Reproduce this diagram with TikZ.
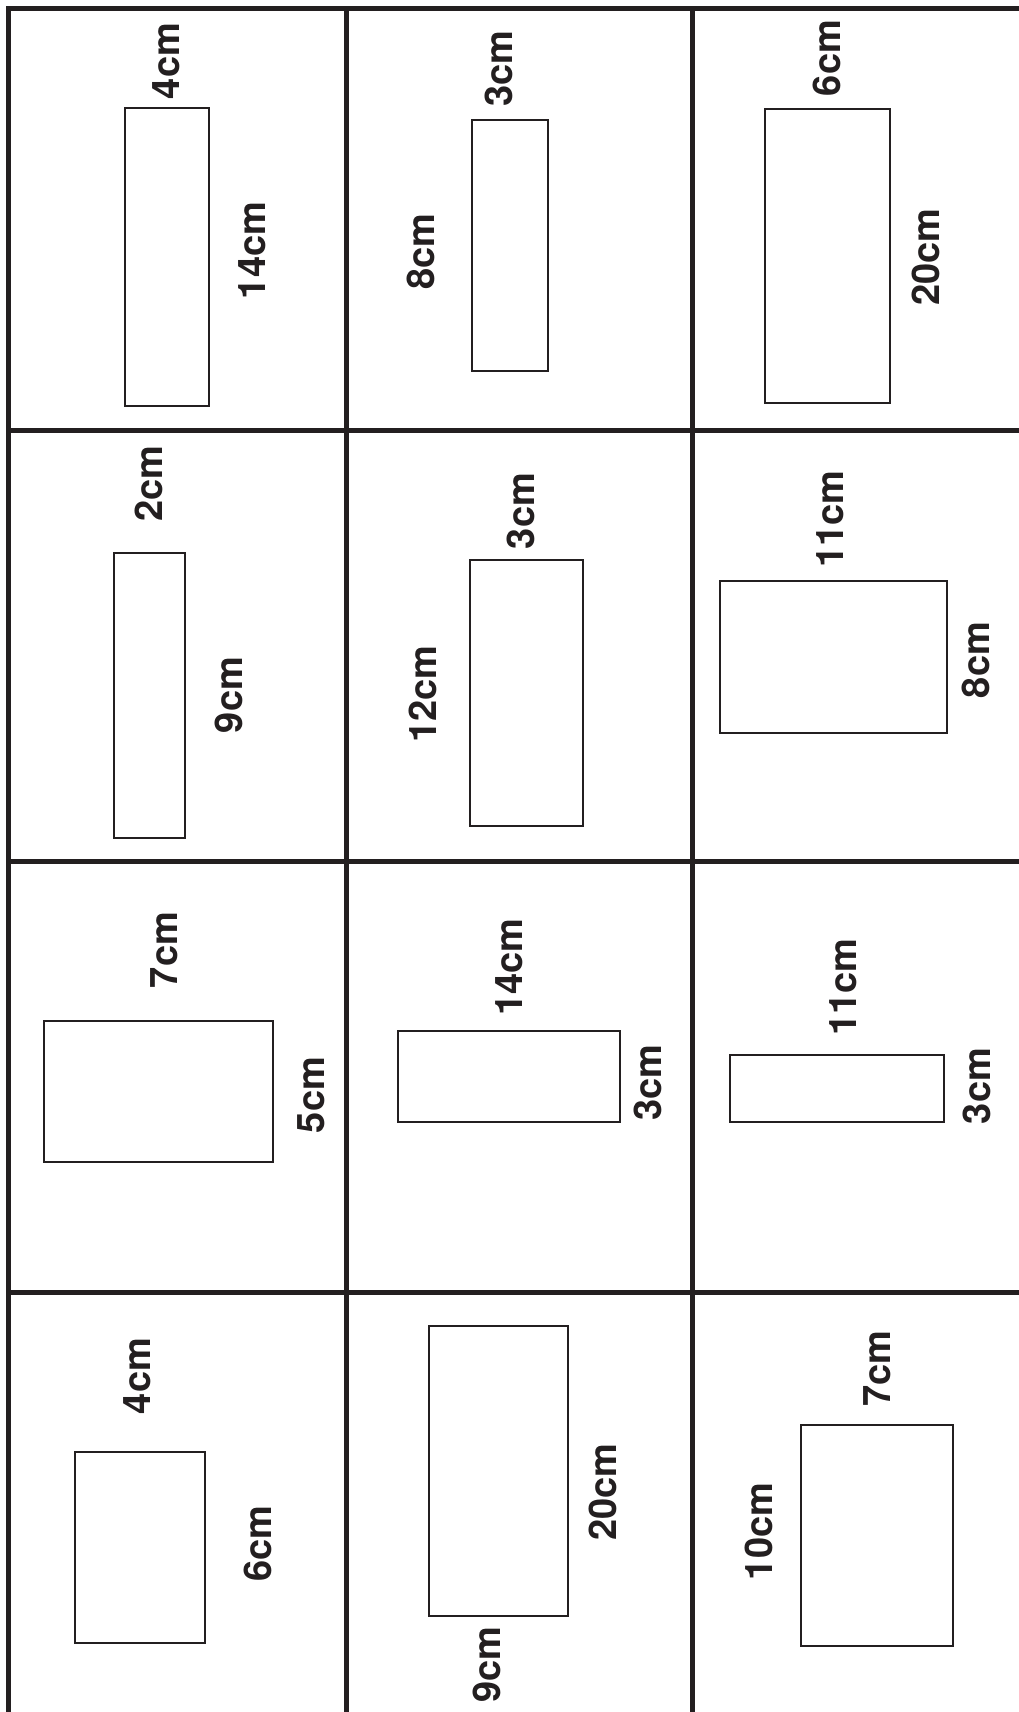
\documentclass[tikz,border=0pt]{standalone}
\usepackage{fontspec}
\setmainfont{TeX Gyre Heros}
\definecolor{ink}{RGB}{35,31,32}
\begin{document}
\begin{tikzpicture}[x=1pt,y=-1pt,
  cellline/.style={draw=ink,line width=5pt},
  figbox/.style={draw=ink,line width=2pt},
  dimlabel/.style={rotate=90,inner sep=0pt,anchor=center,text=ink,
    font=\fontsize{38}{40}\selectfont\bfseries}]
\useasboundingbox (0,0) rectangle (1019,1712);
% grid
\foreach \gx in {8.5,346.5,692}{\draw[cellline] (\gx,6.5) -- (\gx,1712);}
\foreach \gy in {9,430.5,861,1292.5}{\draw[cellline] (6,\gy) -- (1019,\gy);}
% rectangles
\draw[figbox] (125,108) rectangle (208.5,406);
\draw[figbox] (471.5,120) rectangle (547.5,371);
\draw[figbox] (765,109) rectangle (889.5,402.5);
\draw[figbox] (114,552.5) rectangle (185,837.5);
\draw[figbox] (470,559.5) rectangle (583,826);
\draw[figbox] (720,580.5) rectangle (947,733);
\draw[figbox] (43.5,1021) rectangle (273,1162);
\draw[figbox] (397.5,1030.5) rectangle (620,1122);
\draw[figbox] (730,1054.5) rectangle (943.5,1121.5);
\draw[figbox] (75,1452) rectangle (205,1642.5);
\draw[figbox] (429,1326) rectangle (567.5,1615.5);
\draw[figbox] (801,1424.5) rectangle (952.5,1646);
% labels
\node[dimlabel] (a1) at (166,61) {4cm};
\node[dimlabel] (a2) at (252.5,250.5) {14cm};
\node[dimlabel] (b1) at (499,68.5) {3cm};
\node[dimlabel] (b2) at (421.3,251.7) {8cm};
\node[dimlabel] (c1) at (827,58) {6cm};
\node[dimlabel] (c2) at (925.5,257) {20cm};
\node[dimlabel] (d1) at (149,483.5) {2cm};
\node[dimlabel] (d2) at (229,695) {9cm};
\node[dimlabel] (e1) at (521,511) {3cm};
\node[dimlabel] (e2) at (422.5,694) {12cm};
\node[dimlabel] (f1) at (830.5,519) {11cm};
\node[dimlabel] (f2) at (976,660) {8cm};
\node[dimlabel] (g1) at (164,950) {7cm};
\node[dimlabel] (g2) at (311,1095) {5cm};
\node[dimlabel] (h1) at (509.5,967) {14cm};
\node[dimlabel] (h2) at (648,1082.5) {3cm};
\node[dimlabel] (i1) at (843,987) {11cm};
\node[dimlabel] (i2) at (977,1086) {3cm};
\node[dimlabel] (j1) at (137.5,1376) {4cm};
\node[dimlabel] (j2) at (257.5,1543.5) {6cm};
\node[dimlabel] (k1) at (603,1492.3) {20cm};
\node[dimlabel] (k2) at (486.7,1664.7) {9cm};
\node[dimlabel] (m1) at (877.5,1368.5) {7cm};
\node[dimlabel] (m2) at (759,1531.5) {10cm};
\end{tikzpicture}
\end{document}
